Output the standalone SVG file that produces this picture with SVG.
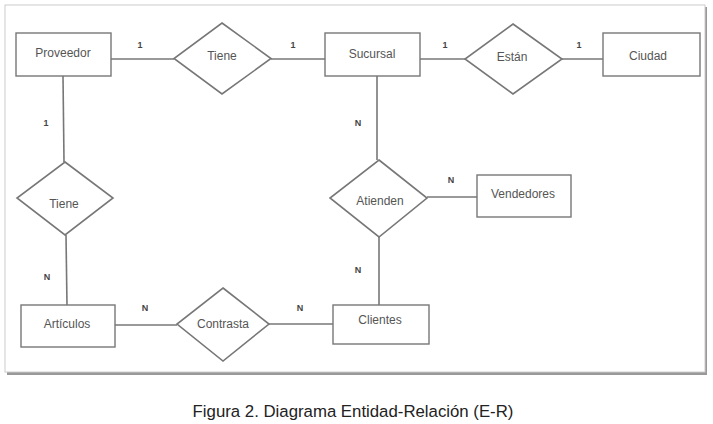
<svg xmlns="http://www.w3.org/2000/svg" width="713" height="424" viewBox="0 0 713 424">
<style>
.ent{fill:#fff;stroke:#777;stroke-width:1.4}
.rel{fill:#fff;stroke:#777;stroke-width:1.6}
.lbl{font-family:"Liberation Sans",Arial,sans-serif;font-size:12px;fill:#555;text-anchor:middle;dominant-baseline:central}
.card{font-family:"Liberation Sans",Arial,sans-serif;font-size:9px;fill:#444;font-weight:bold;text-anchor:middle;dominant-baseline:central}
.con{stroke:#777;stroke-width:1.6;fill:none}
</style>
<rect width="713" height="424" fill="#fff"/>
<g id="frame">
<rect x="7" y="7" width="700" height="368" fill="#999"/>
<rect x="5" y="5" width="700" height="367" fill="#fff" stroke="#ccc" stroke-width="1"/>
</g>
<g id="connectors">
<line class="con" x1="111" y1="59" x2="174" y2="59"/>
<line class="con" x1="271" y1="59" x2="325" y2="59"/>
<line class="con" x1="420" y1="59" x2="465" y2="59"/>
<line class="con" x1="562" y1="59" x2="603" y2="59"/>
<line class="con" x1="63" y1="76" x2="64" y2="162"/>
<line class="con" x1="66" y1="235" x2="67" y2="305"/>
<line class="con" x1="377" y1="76" x2="377" y2="160"/>
<line class="con" x1="427" y1="197" x2="477" y2="197"/>
<line class="con" x1="379" y1="237" x2="379" y2="305"/>
<line class="con" x1="115" y1="325" x2="177" y2="325"/>
<line class="con" x1="269" y1="324" x2="333" y2="324"/>
<text class="card" x="140" y="45">1</text>
<text class="card" x="293" y="45">1</text>
<text class="card" x="445" y="45">1</text>
<text class="card" x="579" y="45">1</text>
<text class="card" x="46" y="123">1</text>
<text class="card" x="47" y="277">N</text>
<text class="card" x="358" y="123">N</text>
<text class="card" x="451" y="180">N</text>
<text class="card" x="358" y="270">N</text>
<text class="card" x="145" y="308">N</text>
<text class="card" x="300" y="308">N</text>
</g>
<g id="proveedor"><rect class="ent" x="16" y="33" width="95" height="43"/><text class="lbl" x="63" y="53">Proveedor</text></g>
<g id="tiene1"><polygon class="rel" points="222,23 271,58.5 222,94 174,58.5"/><text class="lbl" x="222" y="56">Tiene</text></g>
<g id="sucursal"><rect class="ent" x="325" y="33" width="95" height="43"/><text class="lbl" x="372" y="54">Sucursal</text></g>
<g id="estan"><polygon class="rel" points="513,24 562,59 513,94 465,59"/><text class="lbl" x="512" y="57">Están</text></g>
<g id="ciudad"><rect class="ent" x="603" y="33" width="97" height="43"/><text class="lbl" x="648" y="56">Ciudad</text></g>
<g id="tiene2"><polygon class="rel" points="65,162 113,198 65,235 17,198"/><text class="lbl" x="64" y="204">Tiene</text></g>
<g id="atienden"><polygon class="rel" points="379,160 427,198 379,237 330,198"/><text class="lbl" x="380" y="201">Atienden</text></g>
<g id="vendedores"><rect class="ent" x="477" y="175" width="94" height="42"/><text class="lbl" x="523" y="194">Vendedores</text></g>
<g id="articulos"><rect class="ent" x="21" y="305" width="94" height="42"/><text class="lbl" x="67" y="324">Artículos</text></g>
<g id="contrasta"><polygon class="rel" points="223,288 269,324 223,361 177,324"/><text class="lbl" x="223" y="324">Contrasta</text></g>
<g id="clientes"><rect class="ent" x="333" y="305" width="96" height="39"/><text class="lbl" x="380" y="320">Clientes</text></g>
<text x="353" y="417" font-family="'Liberation Sans',Arial,sans-serif" font-size="16.8" fill="#222" text-anchor="middle">Figura 2. Diagrama Entidad-Relación (E-R)</text>
</svg>
